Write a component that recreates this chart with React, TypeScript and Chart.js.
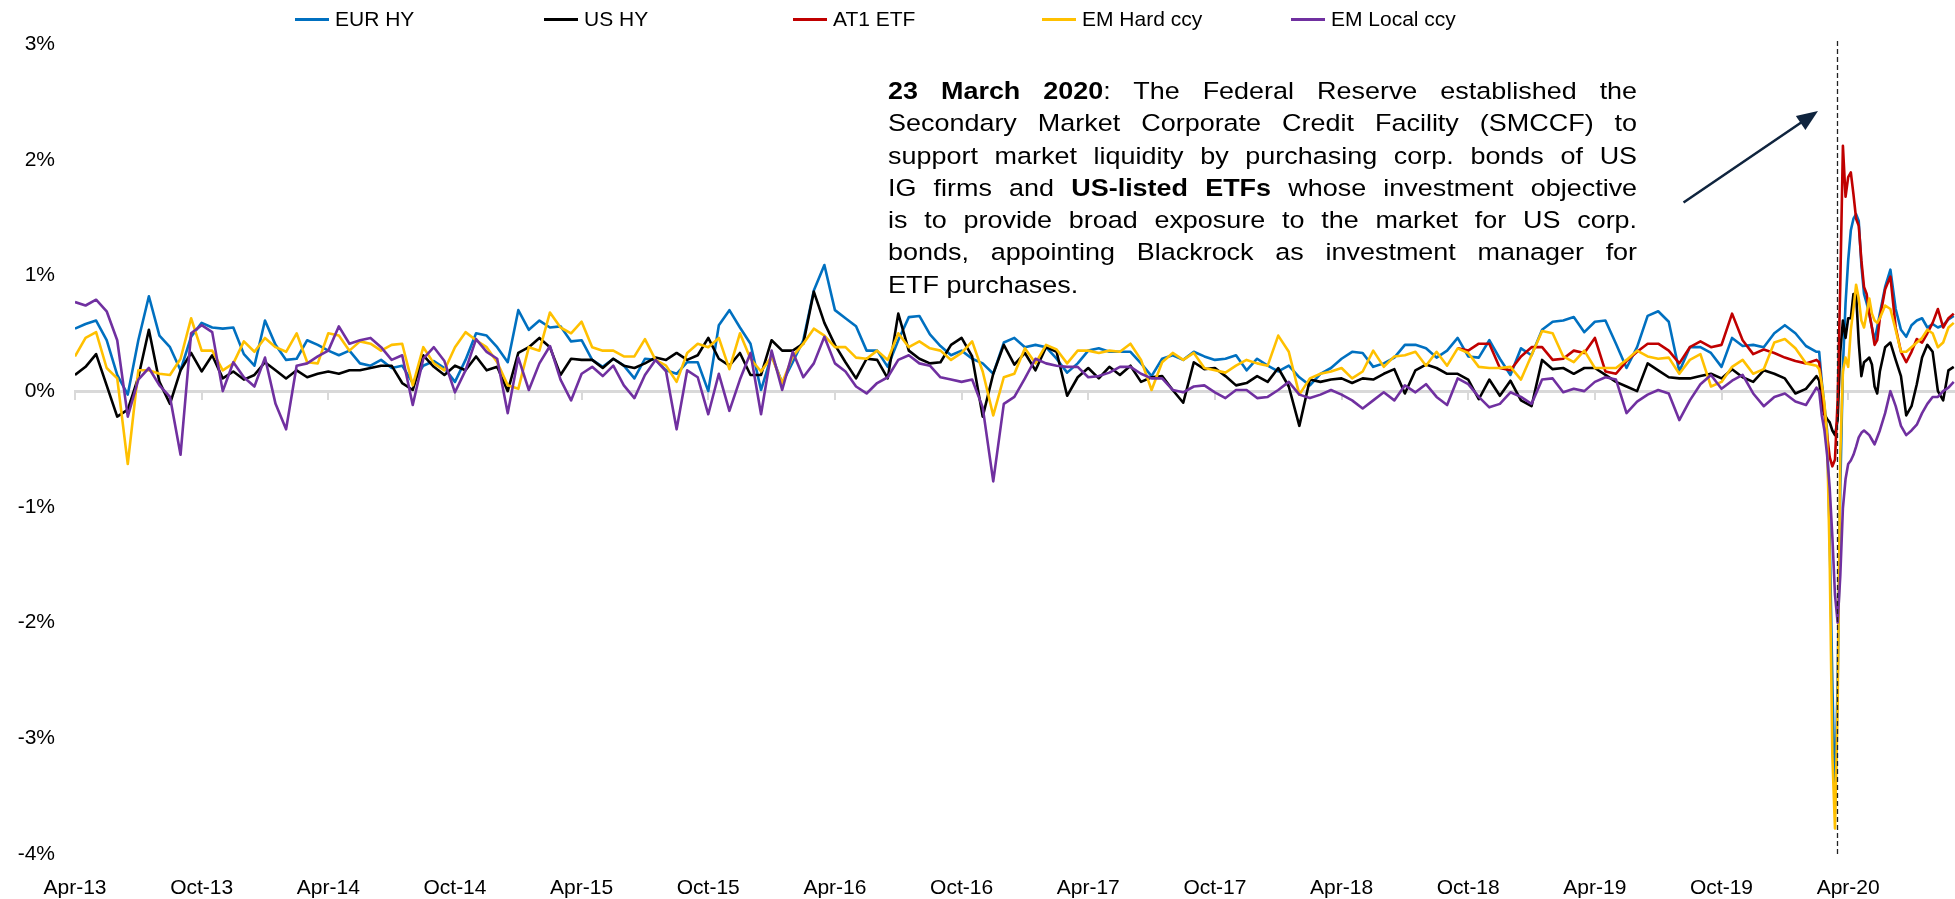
import React, { useEffect, useRef } from 'react';
import { Chart, registerables } from 'chart.js';

Chart.register(...registerables);

const W = 1955;
const H = 899;
const FONT = '"Liberation Sans", Arial, Helvetica, sans-serif';

// ---- axis labels ----
const X_LABELS = ['Apr-13', 'Oct-13', 'Apr-14', 'Oct-14', 'Apr-15', 'Oct-15', 'Apr-16', 'Oct-16', 'Apr-17', 'Oct-17', 'Apr-18', 'Oct-18', 'Apr-19', 'Oct-19', 'Apr-20'];
const Y_MIN = -4;
const Y_MAX = 3;
const X_MAX = 89.06; // months after Apr-13 at the right edge

// ---- sampling positions (months since Apr-13) ----
const MONTHS: number[] = [];
for (let i = 0; i <= 165; i++) MONTHS.push(i * 0.5); // Apr-13 .. Feb-20, half-monthly
for (let i = 1; i <= 24; i++) MONTHS.push(82.5 + i * 0.125); // Mar-20 sell-off, finer
for (let i = 1; i <= 14; i++) MONTHS.push(85.5 + i * 0.25); // May-20 .. Sep-20

// ---- series (%) ----
const EUR_HY = [
  0.54, 0.58, 0.61, 0.44, 0.14, -0.03, 0.44, 0.82, 0.48, 0.38, 0.18, 0.47, 0.59, 0.55, 0.54, 0.55, 0.32, 0.22, 0.61, 0.40, 0.27, 0.28, 0.44, 0.40, 0.35, 0.31, 0.35, 0.24, 0.22, 0.27,
  0.20, 0.22, 0.07, 0.22, 0.26, 0.20, 0.08, 0.27, 0.50, 0.48, 0.38, 0.25, 0.70, 0.53, 0.61, 0.55, 0.56, 0.43, 0.44, 0.27, 0.21, 0.28, 0.22, 0.11, 0.28, 0.27, 0.18, 0.15, 0.25, 0.25, 0.00,
  0.57, 0.70, 0.55, 0.41, 0.01, 0.31, 0.07, 0.25, 0.44, 0.87, 1.09, 0.70, 0.63, 0.56, 0.35, 0.35, 0.21, 0.44, 0.64, 0.65, 0.49, 0.39, 0.31, 0.35, 0.28, 0.24, 0.15, 0.42, 0.46, 0.38, 0.40,
  0.38, 0.28, 0.16, 0.24, 0.35, 0.37, 0.34, 0.34, 0.34, 0.24, 0.13, 0.28, 0.31, 0.27, 0.34, 0.30, 0.27, 0.28, 0.31, 0.18, 0.28, 0.22, 0.17, 0.22, 0.12, 0.05, 0.15, 0.20, 0.28, 0.34, 0.33,
  0.21, 0.24, 0.29, 0.40, 0.40, 0.37, 0.29, 0.35, 0.46, 0.30, 0.29, 0.44, 0.28, 0.14, 0.37, 0.31, 0.53, 0.60, 0.61, 0.64, 0.51, 0.60, 0.61, 0.41, 0.20, 0.38, 0.65, 0.69, 0.60, 0.17,
  0.38, 0.38, 0.33, 0.21, 0.46, 0.39, 0.40, 0.38, 0.50, 0.57, 0.50, 0.39, 0.34,
  0.34, 0.08, -0.13, -0.34, -1.26, -2.52, -3.57, -2.52, -0.84, 0.21, 0.76, 1.13, 1.39, 1.49, 1.53, 1.47, 1.09, 0.84, 0.76, 0.67, 0.55, 0.44, 0.55, 0.67,
  0.90, 1.05, 0.71, 0.53, 0.47, 0.57, 0.61, 0.63, 0.55, 0.58, 0.55, 0.57, 0.62, 0.65,
];

const US_HY = [
  0.14, 0.21, 0.32, 0.05, -0.22, -0.16, 0.12, 0.53, 0.08, -0.11, 0.18, 0.33, 0.17, 0.31, 0.11, 0.17, 0.10, 0.14, 0.25, 0.18, 0.11, 0.18, 0.12, 0.15, 0.17, 0.15, 0.18, 0.18, 0.20, 0.22,
  0.22, 0.07, 0.01, 0.31, 0.21, 0.14, 0.22, 0.18, 0.30, 0.18, 0.21, 0.00, 0.33, 0.38, 0.46, 0.38, 0.14, 0.28, 0.27, 0.27, 0.20, 0.28, 0.22, 0.20, 0.24, 0.29, 0.27, 0.33, 0.27, 0.31, 0.46,
  0.28, 0.22, 0.33, 0.14, 0.14, 0.44, 0.35, 0.35, 0.41, 0.86, 0.59, 0.40, 0.25, 0.11, 0.28, 0.27, 0.11, 0.67, 0.35, 0.28, 0.24, 0.25, 0.40, 0.46, 0.30, -0.22, 0.15, 0.40, 0.23, 0.33, 0.18,
  0.38, 0.34, -0.04, 0.12, 0.20, 0.11, 0.21, 0.14, 0.22, 0.08, 0.12, 0.13, 0.01, -0.10, 0.25, 0.19, 0.20, 0.13, 0.05, 0.07, 0.13, 0.08, 0.20, 0.04, -0.30, 0.10, 0.08, 0.10, 0.11, 0.07, 0.11,
  0.10, 0.15, 0.19, -0.02, 0.18, 0.23, 0.20, 0.15, 0.15, 0.10, -0.07, 0.10, -0.04, 0.09, -0.08, -0.13, 0.27, 0.19, 0.20, 0.15, 0.20, 0.20, 0.14, 0.08, 0.04, 0.00, 0.24, 0.18, 0.12, 0.11,
  0.11, 0.13, 0.15, 0.11, 0.19, 0.12, 0.08, 0.18, 0.15, 0.11, -0.02, 0.02, 0.13,
  0.09, -0.13, -0.20, -0.24, -0.27, -0.34, -0.38, -0.25, 0.34, 0.61, 0.46, 0.63, 0.63, 0.84, 0.84, 0.42, 0.13, 0.25, 0.27, 0.29, 0.23, 0.04, -0.02, 0.17,
  0.38, 0.42, 0.27, 0.13, -0.21, -0.13, 0.06, 0.29, 0.40, 0.34, 0.00, -0.08, 0.18, 0.21,
];

const AT1_START_MONTH = 65.5; // AT1 ETF series begins in Sep-18
const AT1_ETF = [
  0.37, 0.35, 0.41, 0.41, 0.20, 0.18, 0.30, 0.38, 0.38, 0.27, 0.28, 0.35, 0.33, 0.46, 0.17, 0.15, 0.26, 0.34, 0.41, 0.41, 0.35, 0.24,
  0.38, 0.43, 0.38, 0.40, 0.67, 0.44, 0.32, 0.36, 0.33, 0.29, 0.26, 0.24, 0.27,
  0.25, 0.04, -0.19, -0.38, -0.57, -0.65, -0.59, -0.08, 0.92, 2.12, 1.68, 1.85, 1.89, 1.70, 1.49, 1.43, 1.13, 0.90, 0.84, 0.67, 0.55, 0.40, 0.44, 0.63,
  0.88, 0.99, 0.55, 0.34, 0.25, 0.34, 0.45, 0.42, 0.50, 0.59, 0.71, 0.55, 0.63, 0.67,
];

const EM_HARD = [
  0.30, 0.46, 0.51, 0.20, 0.11, -0.63, 0.18, 0.18, 0.15, 0.14, 0.28, 0.63, 0.35, 0.35, 0.18, 0.24, 0.43, 0.34, 0.46, 0.38, 0.34, 0.50, 0.25, 0.24, 0.50, 0.48, 0.35, 0.43, 0.41, 0.35,
  0.40, 0.41, 0.05, 0.38, 0.24, 0.18, 0.38, 0.51, 0.44, 0.38, 0.25, 0.05, 0.02, 0.38, 0.35, 0.68, 0.55, 0.50, 0.60, 0.38, 0.35, 0.35, 0.30, 0.30, 0.45, 0.27, 0.22, 0.08, 0.33, 0.41, 0.38,
  0.46, 0.19, 0.50, 0.28, 0.17, 0.30, 0.07, 0.30, 0.41, 0.54, 0.48, 0.38, 0.38, 0.29, 0.28, 0.35, 0.27, 0.50, 0.38, 0.43, 0.37, 0.35, 0.27, 0.33, 0.43, 0.17, -0.21, 0.12, 0.15, 0.37, 0.24,
  0.40, 0.36, 0.24, 0.35, 0.35, 0.33, 0.35, 0.34, 0.41, 0.27, 0.01, 0.25, 0.33, 0.27, 0.33, 0.20, 0.18, 0.16, 0.22, 0.27, 0.24, 0.22, 0.48, 0.34, -0.03, 0.11, 0.15, 0.17, 0.20, 0.11, 0.17,
  0.35, 0.21, 0.30, 0.31, 0.34, 0.22, 0.34, 0.22, 0.37, 0.33, 0.21, 0.20, 0.20, 0.21, 0.10, 0.31, 0.52, 0.50, 0.30, 0.25, 0.35, 0.20, 0.20, 0.20, 0.27, 0.35, 0.30, 0.28, 0.29, 0.15,
  0.27, 0.32, 0.04, 0.08, 0.21, 0.27, 0.15, 0.19, 0.42, 0.45, 0.37, 0.24, 0.22,
  0.19, 0.06, -0.11, -0.38, -1.47, -3.15, -3.78, -2.73, -0.55, 0.17, 0.29, 0.21, 0.53, 0.71, 0.92, 0.80, 0.61, 0.55, 0.67, 0.80, 0.67, 0.61, 0.59, 0.63,
  0.74, 0.71, 0.53, 0.34, 0.34, 0.38, 0.42, 0.46, 0.53, 0.50, 0.38, 0.42, 0.55, 0.59,
];

const EM_LOCAL = [
  0.77, 0.74, 0.79, 0.69, 0.44, -0.22, 0.10, 0.20, 0.05, -0.05, -0.55, 0.50, 0.57, 0.51, 0.00, 0.25, 0.12, 0.04, 0.29, -0.11, -0.33, 0.22, 0.24, 0.30, 0.35, 0.56, 0.41, 0.44, 0.46, 0.38,
  0.27, 0.31, -0.12, 0.28, 0.38, 0.26, -0.01, 0.18, 0.45, 0.34, 0.28, -0.19, 0.29, 0.01, 0.24, 0.39, 0.10, -0.08, 0.15, 0.21, 0.13, 0.22, 0.05, -0.06, 0.14, 0.27, 0.17, -0.33, 0.18, 0.12, -0.20,
  0.15, -0.17, 0.10, 0.33, -0.20, 0.35, 0.01, 0.34, 0.12, 0.24, 0.47, 0.24, 0.17, 0.04, -0.02, 0.07, 0.12, 0.27, 0.31, 0.24, 0.22, 0.12, 0.10, 0.08, 0.10, -0.14, -0.78, -0.11, -0.05, 0.11, 0.28,
  0.24, 0.22, 0.21, 0.21, 0.12, 0.13, 0.16, 0.21, 0.21, 0.15, 0.11, 0.11, 0.01, -0.01, 0.04, 0.05, -0.01, -0.06, 0.01, 0.01, -0.06, -0.05, 0.01, 0.08, -0.03, -0.06, -0.03, 0.01, -0.03, -0.08, -0.15,
  -0.08, -0.01, -0.08, 0.05, -0.01, 0.06, -0.05, -0.12, 0.11, 0.06, -0.05, -0.14, -0.11, -0.01, -0.05, -0.11, 0.10, 0.11, -0.01, 0.02, 0.00, 0.08, 0.12, 0.10, -0.19, -0.09, -0.03, 0.01, -0.02, -0.25,
  -0.08, 0.06, 0.14, 0.02, 0.09, 0.14, -0.02, -0.13, -0.05, -0.02, -0.09, -0.12, 0.03,
  0.00, -0.21, -0.34, -0.55, -0.84, -1.26, -1.76, -2.00, -1.60, -1.01, -0.76, -0.63, -0.60, -0.55, -0.48, -0.40, -0.36, -0.34, -0.36, -0.38, -0.42, -0.46, -0.40, -0.34,
  -0.19, 0.00, -0.13, -0.30, -0.38, -0.34, -0.29, -0.19, -0.11, -0.05, -0.05, 0.00, 0.03, 0.08,
];

const SERIES_NAMES = ['EUR HY', 'US HY', 'AT1 ETF', 'EM Hard ccy', 'EM Local ccy'];
const SERIES_COLORS = ['#0070C0', '#000000', '#C00000', '#FFC000', '#7030A0'];

// ---- annotation anchors (data coordinates) ----
const EVENT_MONTH = 83.45; // dashed marker for 23 March 2020
const ARROW_FROM = { x: 76.2, y: 1.63 };
const ARROW_TO = { x: 82.57, y: 2.42 };

function toPoints(values: number[], startIndex = 0) {
  return values.map((y, i) => ({ x: MONTHS[startIndex + i], y }));
}

const markerPlugin = {
  id: 'eventMarker',
  afterDatasetsDraw(chart: any) {
    const { ctx, chartArea, scales } = chart;
    const xs = scales.x;
    const ys = scales.y;
    ctx.save();
    // dashed vertical line
    const px = Math.round(xs.getPixelForValue(EVENT_MONTH)) + 0.5;
    ctx.strokeStyle = '#222';
    ctx.lineWidth = 1.3;
    ctx.setLineDash([5, 3]);
    ctx.beginPath();
    ctx.moveTo(px, chartArea.top - 3);
    ctx.lineTo(px, chartArea.bottom);
    ctx.stroke();
    ctx.setLineDash([]);
    // arrow
    const x1 = xs.getPixelForValue(ARROW_FROM.x);
    const y1 = ys.getPixelForValue(ARROW_FROM.y);
    const x2 = xs.getPixelForValue(ARROW_TO.x);
    const y2 = ys.getPixelForValue(ARROW_TO.y);
    const ang = Math.atan2(y2 - y1, x2 - x1);
    const head = 21;
    const hw = 8.5;
    const bx = x2 - head * Math.cos(ang);
    const by = y2 - head * Math.sin(ang);
    ctx.strokeStyle = '#0F243E';
    ctx.fillStyle = '#0F243E';
    ctx.lineWidth = 2.6;
    ctx.beginPath();
    ctx.moveTo(x1, y1);
    ctx.lineTo(bx + 2 * Math.cos(ang), by + 2 * Math.sin(ang));
    ctx.stroke();
    ctx.beginPath();
    ctx.moveTo(x2, y2);
    ctx.lineTo(bx - hw * Math.sin(ang), by + hw * Math.cos(ang));
    ctx.lineTo(bx + hw * Math.sin(ang), by - hw * Math.cos(ang));
    ctx.closePath();
    ctx.fill();
    ctx.restore();
  },
};

const keepHalfYears = (scale: any) => {
  scale.ticks = scale.ticks.filter((t: any) => t.value % 6 === 0 && t.value <= 84);
};

export default function App() {
  const canvasRef = useRef<HTMLCanvasElement>(null);

  useEffect(() => {
    document.body.style.margin = '0';
    const canvas = canvasRef.current;
    if (!canvas) return;
    const at1Start = MONTHS.indexOf(AT1_START_MONTH);
    const seriesData = [
      toPoints(EUR_HY),
      toPoints(US_HY),
      toPoints(AT1_ETF, at1Start),
      toPoints(EM_HARD),
      toPoints(EM_LOCAL),
    ];
    const chart = new Chart(canvas, {
      type: 'line',
      data: {
        datasets: seriesData.map((data, i) => ({
          label: SERIES_NAMES[i],
          data,
          borderColor: SERIES_COLORS[i],
          backgroundColor: SERIES_COLORS[i],
          borderWidth: 2.6,
          pointRadius: 0,
          tension: 0,
          fill: false,
          borderJoinStyle: 'round' as const,
          order: 5 - i,
          xAxisID: 'x',
          yAxisID: 'y',
        })),
      },
      options: {
        animation: false,
        responsive: false,
        maintainAspectRatio: false,
        devicePixelRatio: 1,
        events: [],
        layout: { padding: { top: 44, right: 0, bottom: 0, left: 0 } },
        plugins: {
          legend: { display: false },
          tooltip: { enabled: false },
        },
        scales: {
          x: {
            type: 'linear',
            axis: 'x',
            position: 'bottom',
            min: 0,
            max: X_MAX,
            afterBuildTicks: keepHalfYears,
            afterFit: (s: any) => {
              s.height = 45;
            },
            grid: { display: false, drawTicks: false },
            border: { display: false },
            ticks: {
              stepSize: 6,
              autoSkip: false,
              maxRotation: 0,
              minRotation: 0,
              padding: 22,
              color: '#000',
              font: { family: FONT, size: 21 },
              callback: (v: any) => {
                const n = Number(v);
                return n % 6 === 0 ? X_LABELS[Math.round(n / 6)] ?? '' : '';
              },
            },
          },
          x0: {
            type: 'linear',
            axis: 'x',
            position: { y: 0 } as any,
            min: 0,
            max: X_MAX,
            afterBuildTicks: keepHalfYears,
            grid: { drawOnChartArea: false, drawTicks: true, tickLength: 7, color: '#D9D9D9', lineWidth: 2 },
            border: { display: true, color: '#D9D9D9', width: 3 },
            ticks: { display: false, stepSize: 6 },
          },
          y: {
            type: 'linear',
            position: 'left',
            min: Y_MIN,
            max: Y_MAX,
            afterFit: (s: any) => {
              s.width = 75;
            },
            grid: { display: false, drawTicks: false },
            border: { display: false },
            ticks: {
              stepSize: 1,
              padding: 20,
              color: '#000',
              font: { family: FONT, size: 21 },
              callback: (v: any) => `${v}%`,
            },
          },
        },
      } as any,
      plugins: [markerPlugin],
    });
    return () => chart.destroy();
  }, []);

  const lineStyle: React.CSSProperties = { textAlign: 'justify', textAlignLast: 'justify' as any, whiteSpace: 'nowrap' };

  return (
    <div style={{ position: 'relative', width: W, height: H, background: '#fff', overflow: 'hidden', fontFamily: FONT }}>
      <canvas ref={canvasRef} width={W} height={H} style={{ display: 'block', width: W, height: H }} />
      {/* legend */}
      {SERIES_NAMES.map((name, i) => (
        <div
          key={name}
          style={{ position: 'absolute', left: 295 + i * 249, top: 7, height: 24, display: 'flex', alignItems: 'center' }}
        >
          <span style={{ display: 'inline-block', width: 34, height: 3, background: SERIES_COLORS[i] }} />
          <span style={{ marginLeft: 6, fontSize: 21, lineHeight: '24px', color: '#000', whiteSpace: 'nowrap' }}>{name}</span>
        </div>
      ))}
      {/* annotation */}
      <div
        style={{
          position: 'absolute',
          left: 888,
          top: 75,
          width: 681,
          transform: 'scaleX(1.1)',
          transformOrigin: 'left top',
          fontSize: 24.5,
          lineHeight: '32.3px',
          color: '#000',
        }}
      >
        <div style={lineStyle}>
          <b>23 March 2020</b>: The Federal Reserve established the
        </div>
        <div style={lineStyle}>Secondary Market Corporate Credit Facility (SMCCF) to</div>
        <div style={lineStyle}>support market liquidity by purchasing corp. bonds of US</div>
        <div style={lineStyle}>
          IG firms and <b>US-listed ETFs</b> whose investment objective
        </div>
        <div style={lineStyle}>is to provide broad exposure to the market for US corp.</div>
        <div style={lineStyle}>bonds, appointing Blackrock as investment manager for</div>
        <div>ETF purchases.</div>
      </div>
    </div>
  );
}
